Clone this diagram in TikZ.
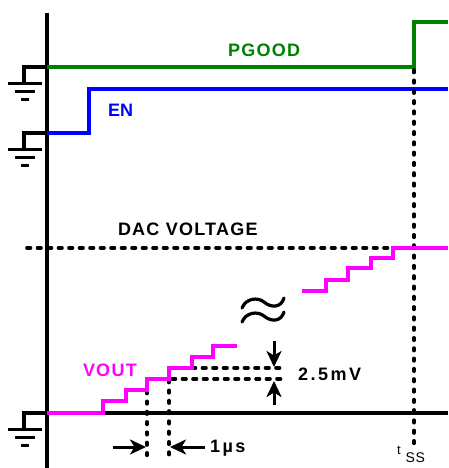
\documentclass[tikz,border=0pt]{standalone}
\usepackage{fontspec}
\setmainfont{Liberation Sans}
\usetikzlibrary{arrows.meta}
\definecolor{pgcol}{RGB}{0,128,0}
\definecolor{encol}{RGB}{0,0,255}
\definecolor{vocol}{RGB}{255,0,255}
\tikzset{
  sig/.style={line width=3.3pt, line join=miter},
  dotline/.style={line width=3.6pt, line cap=round, dash pattern=on 2.5pt off 7.8pt},
  hdotline/.style={line width=3.6pt, line cap=round, dash pattern=on 3.5pt off 7pt},
  lbl/.style={inner sep=0pt, outer sep=0pt, anchor=base west,
    font=\fontsize{18}{18}\selectfont\bfseries\addfontfeature{LetterSpace=7}},
  lblw/.style={inner sep=0pt, outer sep=0pt, anchor=base west,
    font=\fontsize{18}{18}\selectfont\bfseries\addfontfeature{LetterSpace=14}},
  dimarrow/.style={line width=3pt, -{Stealth[length=16pt,width=15pt,inset=4.5pt]}},
  gnd/.pic={
    \draw[line width=3.3pt] (0,0) -- (-23,0) -- (-23,16.5);
    \draw[line width=3.3pt] (-39,16.5) -- (-5,16.5);
    \draw[line width=3.3pt] (-32,24.5) -- (-12,24.5);
    \draw[line width=3.3pt] (-26,32.5) -- (-18,32.5);
  }
}
\begin{document}
\begin{tikzpicture}[x=1pt,y=-1pt]
\useasboundingbox (0,0) rectangle (448,468);
% axes
\coordinate (axtop) at (47,13);
\coordinate (axbot) at (47,468);
\draw[sig] (axtop) -- (axbot);
\coordinate (hl) at (24,413);
\coordinate (hr) at (448,413);
\draw[sig] (hl) -- (hr);
% grounds
\pic at (47,67) {gnd};
\pic at (47,133) {gnd};
\pic at (47,413) {gnd};
% PGOOD
\draw[sig, pgcol] (47,67) -- (414,67) -- (414,22) -- (448,22);
\node[lbl, text=pgcol] (pgood) at (228,57) {PGOOD};
% EN
\draw[sig, encol] (47,133) -- (89,133) -- (89,89) -- (448,89);
\node[lbl, text=encol, font=\fontsize{18}{18}\selectfont\bfseries] (en) at (108,116.5) {EN};
% dotted lines
\coordinate (tssTop) at (414,70);
\coordinate (tssBot) at (414,444);
\draw[dotline] (tssTop) -- (tssBot);
\coordinate (dacL) at (27,248);
\coordinate (dacR) at (391,248);
\draw[hdotline] (dacL) -- (dacR);
\node[lbl] (dac) at (118,235) {DAC VOLTAGE};
\coordinate (v1t) at (147,391);
\coordinate (v1b) at (147,460);
\coordinate (v2t) at (169,380);
\coordinate (v2b) at (169,460);
\draw[dotline] (v1t) -- (v1b);
\draw[dotline] (v2t) -- (v2b);
\coordinate (h1l) at (172,379);
\coordinate (h1r) at (286,379);
\coordinate (h2l) at (192,368);
\coordinate (h2r) at (286,368);
\draw[hdotline] (h1l) -- (h1r);
\draw[hdotline] (h2l) -- (h2r);
% VOUT staircase
\draw[sig, vocol] (47,413) -- (103,413) -- (103,401) -- (126,401) -- (126,390) -- (147,390)
  -- (147,379) -- (169,379) -- (169,368) -- (192,368) -- (192,357) -- (213,357)
  -- (213,346) -- (237,346);
\draw[sig, vocol] (302,291) -- (326,291) -- (326,280) -- (348,280) -- (348,268)
  -- (371,268) -- (371,258) -- (393,258) -- (393,248) -- (448,248);
\node[lbl, text=vocol] (vout) at (83,376) {VOUT};
% approx symbol
\draw[line width=3.2pt, line cap=round] (242,308) .. controls (246,298) and (258,297) .. (264,302)
  .. controls (271,308) and (281,308) .. (284,298);
\draw[line width=3.2pt, line cap=round] (242,322) .. controls (246,312) and (258,311) .. (264,316)
  .. controls (271,322) and (281,322) .. (284,312);
% 2.5 mV arrows
\coordinate (a1s) at (274,341);
\coordinate (a1e) at (274,367);
\coordinate (a2s) at (274,405);
\coordinate (a2e) at (274,381);
\draw[dimarrow] (a1s) -- (a1e);
\draw[dimarrow] (a2s) -- (a2e);
\node[lblw] (mv) at (298,380) {2.5mV};
% 1 us arrows
\coordinate (b1s) at (113,447);
\coordinate (b1e) at (146,447);
\coordinate (b2s) at (205,447);
\coordinate (b2e) at (170,447);
\draw[dimarrow] (b1s) -- (b1e);
\draw[dimarrow] (b2s) -- (b2e);
\node[lblw] (us) at (210,452.5) {1µs};
% tss
\node[inner sep=0pt, anchor=base west, font=\fontsize{13}{13}\selectfont] (tt) at (397,454) {t};
\node[inner sep=0pt, anchor=base west, font=\fontsize{14}{14}\selectfont\addfontfeature{LetterSpace=5}] (ss) at (405.5,462) {SS};
\end{tikzpicture}
\end{document}
